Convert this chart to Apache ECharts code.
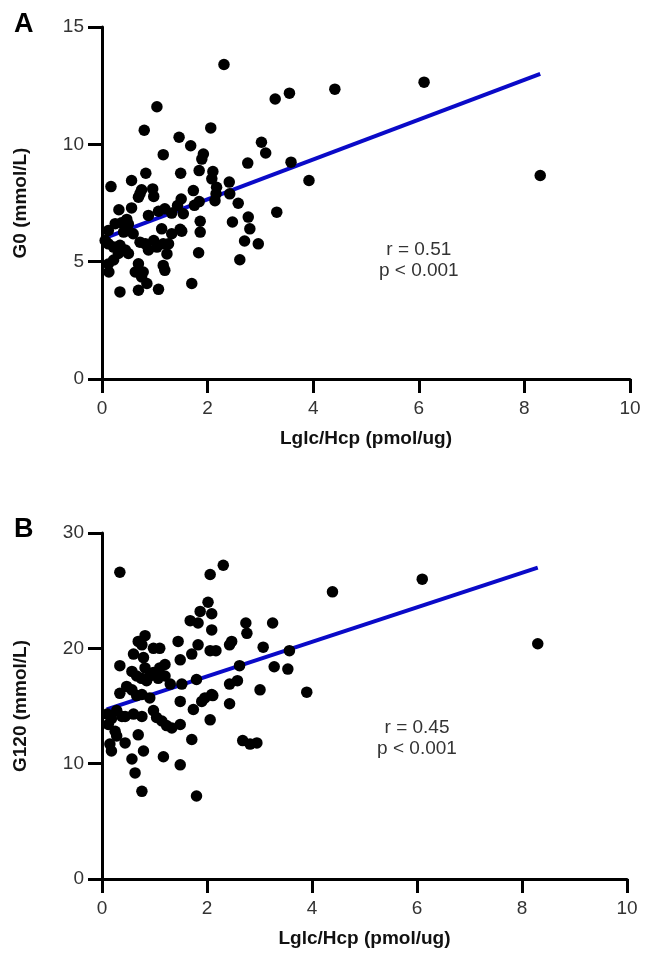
<!DOCTYPE html>
<html>
<head>
<meta charset="utf-8">
<script src="https://cdn.jsdelivr.net/npm/echarts@6/dist/echarts.min.js"></script>
<style>
html,body{margin:0;padding:0;background:#fff;}
#c{width:645px;height:954px;}
</style>
</head>
<body>
<div id="c"></div>
<script>
// ---- Data ----
var xTicks = [0, 2, 4, 6, 8, 10];
var yTicksA = [0, 5, 10, 15];
var yTicksB = [0, 10, 20, 30];

var ptsA_x = [2.31,3.28,3.55,4.41,6.1,8.3,2.06,3.02,3.1,2.76,3.58,3.92,1.92,2.1,2.08,2.41,2.17,2.16,2.42,2.14,
  2.58,3.31,2.77,2.8,2.47,1.86,1.86,2.7,2.96,1.83,2.61,1.04,0.8,1.46,1.68,1.89,1.16,1.84,1.49,0.83,
  0.17,0.56,0.75,0.72,0.69,0.96,0.98,1.73,1.84,1.75,1.5,1.43,0.32,0.56,1.19,1.07,1.32,0.88,0.47,0.37,
  0.5,0.25,1.54,1.48,1.51,1.32,1.13,0.59,0.47,0.41,0.12,0.06,0.12,0.22,0.34,0.44,0.5,0.31,0.22,0.72,
  0.82,0.88,0.98,1.04,1.16,1.23,1.26,0.12,0.13,0.69,0.63,0.78,0.75,1.16,1.19,0.85,1.7,0.34,0.69,1.07];
var ptsA_y = [13.4,11.93,12.18,12.35,12.65,8.67,10.7,10.09,9.63,9.2,9.24,8.46,9.59,8.84,8.53,8.39,8.17,7.89,7.89,7.6,
  7.49,7.11,6.9,6.4,6.69,6.72,6.26,5.88,5.76,5.38,5.08,11.6,10.6,10.3,9.94,9.37,9.56,8.88,8.77,8.77,
  8.2,8.46,8.06,7.9,7.75,8.1,7.78,8.03,7.56,7.4,7.67,7.39,7.21,7.29,7.25,7.15,7.07,6.97,6.8,6.66,
  6.6,6.62,7.04,6.38,6.3,6.19,6.4,6.19,6.4,6.26,6.33,5.9,5.76,5.62,5.7,5.5,5.35,5.35,5.07,5.83,
  5.76,5.5,5.9,5.62,5.76,5.33,5.76,4.9,4.56,4.91,4.56,4.56,4.35,4.84,4.63,4.07,4.07,3.71,3.78,3.82];

var ptsB_x = [0.34,2.06,2.31,4.39,6.1,8.3,2.02,1.87,2.09,1.68,1.83,2.09,2.74,2.76,3.25,0.82,0.69,0.76,1.45,0.98,
  1.1,0.6,0.79,1.83,1.71,1.49,2.06,2.47,2.43,2.17,3.07,3.57,0.34,1.2,1.1,0.57,0.66,0.82,0.91,0.98,
  1.07,0.85,0.75,1.2,1.8,1.52,1.3,0.47,0.34,0.57,0.66,0.76,0.91,1.49,1.96,2.09,1.74,2.06,0.1,0.18,
  0.12,0.28,0.38,0.44,0.6,0.76,0.98,1.04,1.14,1.23,1.33,1.49,0.25,0.28,0.15,0.18,0.44,0.69,0.79,0.57,
  1.17,1.49,1.71,0.63,0.76,1.8,2.62,3.28,3.54,2.58,2.43,3.01,3.9,2.11,1.9,2.43,2.68,2.82,2.95];
var ptsB_y = [26.6,26.4,27.2,24.9,26.0,20.4,24.0,23.2,23.0,22.4,22.2,21.6,22.2,21.3,22.2,21.1,20.6,20.3,20.6,20.0,
  20.0,19.5,19.2,20.3,19.5,19.0,19.8,20.6,20.3,19.8,20.1,19.8,18.5,18.6,18.3,18.0,17.6,18.3,17.6,17.9,
  17.4,17.2,17.4,17.6,17.3,16.9,16.9,16.7,16.1,16.4,15.9,16.0,15.7,15.4,15.7,16.0,14.7,13.8,14.3,13.9,
  13.4,14.6,14.1,14.1,14.3,14.1,14.6,14.0,13.7,13.3,13.1,13.4,12.8,12.4,11.7,11.1,11.8,12.5,11.1,10.4,
  10.6,9.9,12.1,9.2,7.6,7.2,18.5,18.4,18.2,17.2,16.9,16.4,16.2,15.9,15.4,15.2,12.0,11.7,11.8];

var fitA_x = [0.05, 8.3];
var fitA_y = [6.0, 13.0];
var fitB_x = [0.09, 8.3];
var fitB_y = [14.7, 27.0];

var statsA = ['r = 0.51', 'p < 0.001'];
var statsB = ['r = 0.45', 'p < 0.001'];

// ---- Build ----
function zip(a, b) { return a.map(function (v, i) { return [v, b[i]]; }); }
var FONT = '"Liberation Sans", Arial, sans-serif';

function xAxis(gi) {
  return {
    type: 'value', gridIndex: gi, min: xTicks[0], max: xTicks[xTicks.length - 1], interval: 2,
    name: 'Lglc/Hcp (pmol/ug)', nameLocation: 'middle', nameGap: 50,
    nameTextStyle: { fontFamily: FONT, fontSize: 19, fontWeight: 'bold', color: '#111' },
    axisLine: { show: true, onZero: false, lineStyle: { color: '#000', width: 3 } },
    axisTick: { show: true, length: 14, lineStyle: { color: '#000', width: 3 } },
    axisLabel: { fontFamily: FONT, fontSize: 19, color: '#333', margin: 20 },
    splitLine: { show: false }
  };
}
function yAxis(gi, ticks, name) {
  return {
    type: 'value', gridIndex: gi, min: ticks[0], max: ticks[ticks.length - 1], interval: ticks[1] - ticks[0],
    name: name, nameLocation: 'middle', nameGap: 72, nameRotate: 90,
    nameTextStyle: { fontFamily: FONT, fontSize: 19, fontWeight: 'bold', color: '#111' },
    axisLine: { show: true, onZero: false, lineStyle: { color: '#000', width: 3 } },
    axisTick: { show: true, length: 14, lineStyle: { color: '#000', width: 3 } },
    axisLabel: { fontFamily: FONT, fontSize: 19, color: '#333', margin: 18 },
    splitLine: { show: false }
  };
}

var chart = echarts.init(document.getElementById('c'), null, { renderer: 'canvas' });
var option = {
  animation: false,
  backgroundColor: '#fff',
  grid: [
    { left: 102, top: 27, width: 528, height: 352 },
    { left: 102, top: 533, width: 525, height: 346 }
  ],
  xAxis: [xAxis(0), xAxis(1)],
  yAxis: [yAxis(0, yTicksA, 'G0 (mmol/L)'), yAxis(1, yTicksB, 'G120 (mmol/L)')],
  series: [
    { type: 'line', xAxisIndex: 0, yAxisIndex: 0, data: zip(fitA_x, fitA_y), symbol: 'none', z: 2,
      lineStyle: { color: '#0a0ac8', width: 4 } },
    { type: 'scatter', xAxisIndex: 0, yAxisIndex: 0, data: zip(ptsA_x, ptsA_y), symbolSize: 11.5, z: 3,
      itemStyle: { color: '#000', opacity: 1 } },
    { type: 'line', xAxisIndex: 1, yAxisIndex: 1, data: zip(fitB_x, fitB_y), symbol: 'none', z: 2,
      lineStyle: { color: '#0a0ac8', width: 4 } },
    { type: 'scatter', xAxisIndex: 1, yAxisIndex: 1, data: zip(ptsB_x, ptsB_y), symbolSize: 11.5, z: 3,
      itemStyle: { color: '#000', opacity: 1 } }
  ]
};
chart.setOption(option);

var pA = chart.convertToPixel({ gridIndex: 0 }, [6.0, 5.05]);
var pB = chart.convertToPixel({ gridIndex: 1 }, [6.0, 12.2]);
function statText(p, lines) {
  return { type: 'text', x: p[0], y: p[1],
    style: { text: lines.join('\n'), fontFamily: FONT, fontSize: 19, lineHeight: 21,
      fill: '#333', align: 'center', verticalAlign: 'middle' } };
}
chart.setOption({
  graphic: [
    { type: 'text', left: 14, top: 11, style: { text: 'A', fontFamily: FONT, fontSize: 27, fontWeight: 'bold', fill: '#000' } },
    { type: 'text', left: 14, top: 516, style: { text: 'B', fontFamily: FONT, fontSize: 27, fontWeight: 'bold', fill: '#000' } },
    statText(pA, statsA),
    statText(pB, statsB)
  ]
});
</script>
</body>
</html>
